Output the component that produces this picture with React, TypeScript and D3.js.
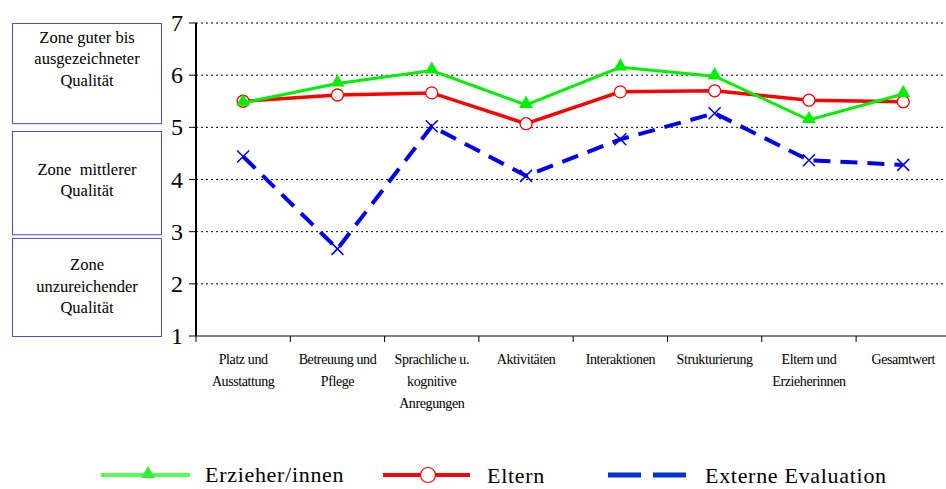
import * as d3 from 'd3';

const categories = [
  ['Platz und', 'Ausstattung'],
  ['Betreuung und', 'Pflege'],
  ['Sprachliche u.', 'kognitive', 'Anregungen'],
  ['Aktivitäten'],
  ['Interaktionen'],
  ['Strukturierung'],
  ['Eltern und', 'Erzieherinnen'],
  ['Gesamtwert'],
];

const erzieher = [5.47, 5.84, 6.09, 5.43, 6.15, 5.98, 5.14, 5.64];
const eltern = [5.5, 5.62, 5.66, 5.07, 5.68, 5.7, 5.52, 5.49];
const extern = [4.44, 2.67, 5.02, 4.07, 4.77, 5.27, 4.37, 4.28];

const yTicks = [1, 2, 3, 4, 5, 6, 7];

const zones = [
  { top: 7, bottom: 5.08, lines: ['Zone guter bis', 'ausgezeichneter', 'Qualität'], offset: -14 },
  { top: 4.93, bottom: 2.95, lines: ['Zone  mittlerer', 'Qualität'], offset: -2 },
  { top: 2.88, bottom: 1, lines: ['Zone', 'unzureichender', 'Qualität'], offset: 0 },
];

const W = 946;
const H = 489;
const serif = "'Liberation Serif', 'Times New Roman', 'DejaVu Serif', serif";

export default function App() {
  const x = d3
    .scaleBand<number>()
    .domain(d3.range(categories.length))
    .range([196, 196 + 94.3 * categories.length]);
  const y = d3.scaleLinear().domain([1, 7]).range([336, 23]);

  const cx = (i: number) => (x(i) ?? 0) + x.bandwidth() / 2;
  const line = d3
    .line<number>()
    .x((_, i) => cx(i))
    .y((d) => y(d));

  const tri = d3.symbol().type(d3.symbolTriangle).size(85)();

  return (
    <svg width={W} height={H} style={{ position: 'absolute', left: 0, top: 0, fontFamily: serif }}>
      <rect width={W} height={H} fill="#fff" />

      {/* zone boxes */}
      {zones.map((z, i) => {
        const top = y(z.top);
        const bot = y(z.bottom);
        const mid = (top + bot) / 2 + z.offset;
        const n = z.lines.length;
        return (
          <g key={i}>
            <rect x={12.5} y={top + 0.5} width={149} height={bot - top} fill="none" stroke="#4a4ad8" strokeWidth={1} />
            {z.lines.map((t, j) => (
              <text
                key={j}
                x={87}
                y={mid + (j - (n - 1) / 2) * 21.5 + 5}
                textAnchor="middle"
                fontSize={16.5}
                style={{ whiteSpace: 'pre' }}
              >
                {t}
              </text>
            ))}
          </g>
        );
      })}

      {/* grid lines */}
      {yTicks.slice(1).map((v) => (
        <line key={v} x1={196} x2={W} y1={y(v)} y2={y(v)} stroke="#000" strokeWidth={1} strokeDasharray="2,3" />
      ))}

      {/* y axis */}
      <line x1={196} x2={196} y1={y(7)} y2={y(1)} stroke="#000" strokeWidth={2} />
      {yTicks.map((v) => (
        <g key={v}>
          <line x1={189} x2={196} y1={y(v)} y2={y(v)} stroke="#000" strokeWidth={1} />
          <text x={183} y={y(v) + 8} textAnchor="end" fontSize={24}>
            {v}
          </text>
        </g>
      ))}

      {/* x axis */}
      <line x1={196} x2={W} y1={y(1)} y2={y(1)} stroke="#000" strokeWidth={1} />
      {d3.range(categories.length + 1).map((i) => (
        <line key={i} x1={196 + i * x.step()} x2={196 + i * x.step()} y1={y(1)} y2={y(1) + 6} stroke="#000" />
      ))}
      {categories.map((lines, i) =>
        lines.map((t, j) => (
          <text key={`${i}-${j}`} x={cx(i)} y={364 + j * 22} textAnchor="middle" fontSize={14} letterSpacing={-0.4}>
            {t}
          </text>
        ))
      )}

      {/* series */}
      <path d={line(extern) ?? ''} fill="none" stroke="#0000ee" strokeWidth={4} strokeDasharray="17,10" />
      {extern.map((v, i) => (
        <path
          key={i}
          d={`M${cx(i) - 6},${y(v) - 6}L${cx(i) + 6},${y(v) + 6}M${cx(i) - 6},${y(v) + 6}L${cx(i) + 6},${y(v) - 6}`}
          stroke="#0000ee"
          strokeWidth={1.5}
        />
      ))}

      <path d={line(eltern) ?? ''} fill="none" stroke="#ff0000" strokeWidth={3.5} />
      {eltern.map((v, i) => (
        <circle key={i} cx={cx(i)} cy={y(v)} r={6} fill="#fff" stroke="#ff0000" strokeWidth={1.3} />
      ))}

      <path d={line(erzieher) ?? ''} fill="none" stroke="#00ee00" strokeWidth={3} />
      {erzieher.map((v, i) => (
        <path key={i} d={tri ?? ''} transform={`translate(${cx(i)},${y(v) - 1})`} fill="#00ee00" />
      ))}

      {/* legend */}
      <g fontSize={22} letterSpacing={0.7}>
        <line x1={101} x2={190} y1={475} y2={475} stroke="#55ff55" strokeWidth={4} />
        <path d={tri ?? ''} transform={`translate(148,474)`} fill="#33ee33" />
        <text x={205} y={482}>Erzieher/innen</text>

        <line x1={383} x2={470} y1={475} y2={475} stroke="#ff0000" strokeWidth={4} />
        <circle cx={428} cy={475} r={7.5} fill="#fff" stroke="#ff0000" strokeWidth={1.2} />
        <text x={487} y={483}>Eltern</text>

        <line x1={608} x2={686} y1={475} y2={475} stroke="#0033cc" strokeWidth={5} strokeDasharray="33,12" />
        <text x={705} y={483}>Externe Evaluation</text>
      </g>
    </svg>
  );
}
